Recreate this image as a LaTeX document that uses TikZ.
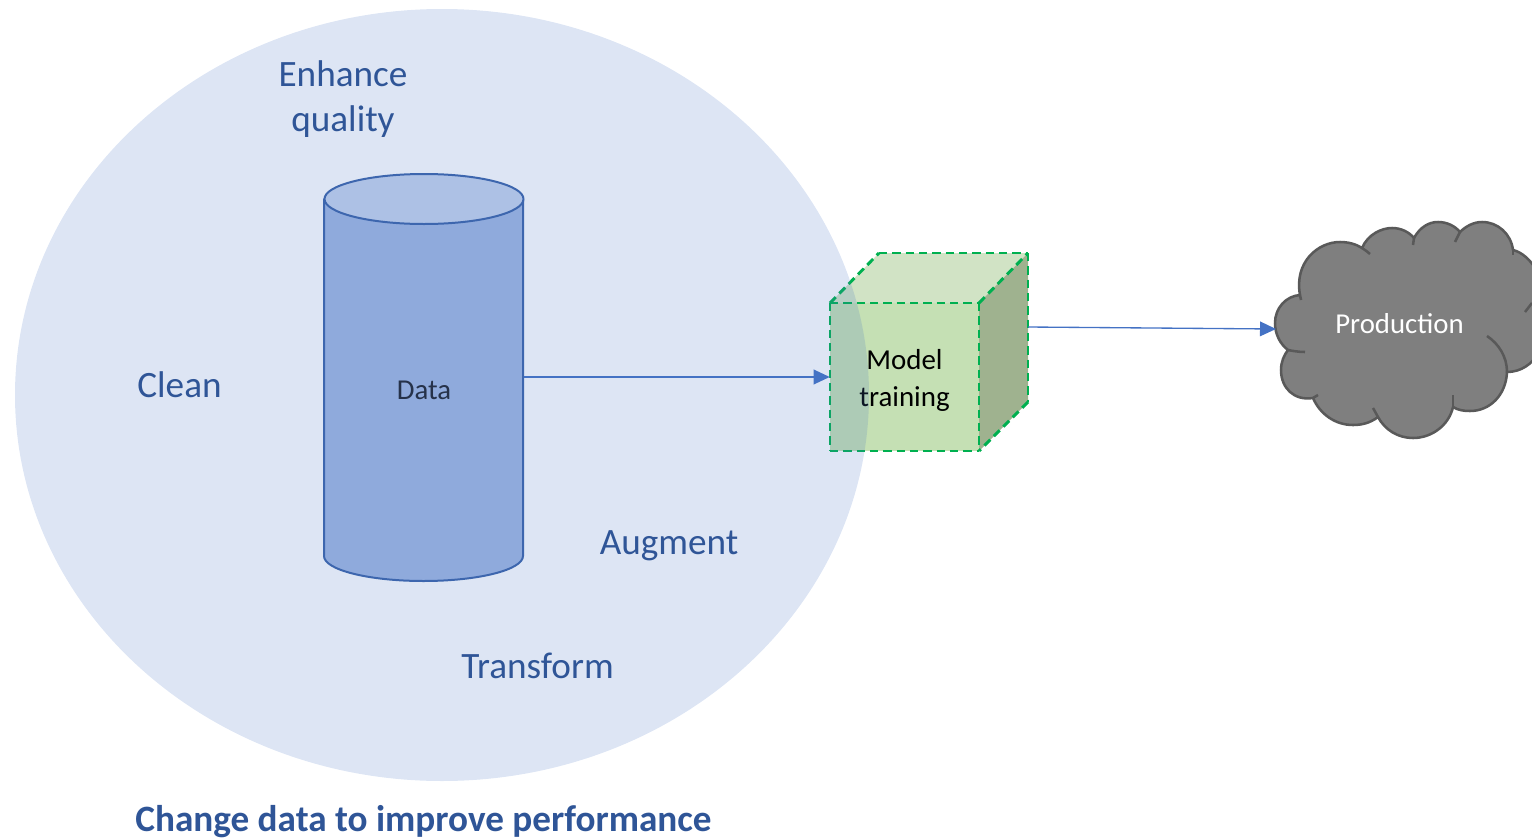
\documentclass[tikz,border=0pt]{standalone}
\usepackage{fontspec}
\setmainfont{Carlito}
\usetikzlibrary{arrows.meta}
\definecolor{linkblue}{HTML}{4472C4}
\definecolor{labelblue}{HTML}{2F5597}
\definecolor{cylbody}{HTML}{8FAADC}
\definecolor{cyltop}{HTML}{ADC1E5}
\definecolor{cyledge}{HTML}{3D66AE}
\definecolor{cubegreen}{HTML}{00B050}
\definecolor{cubetop}{HTML}{D1E3C5}
\definecolor{cubeside}{HTML}{9FB28F}
\definecolor{cubefill}{HTML}{C5E0B4}
\definecolor{datadark}{HTML}{26324A}
\definecolor{cloudgrey}{HTML}{7F7F7F}
\definecolor{cloudedge}{HTML}{595959}
\tikzset{
  steplabel/.style={text=labelblue,font=\fontsize{27.9}{33.75}\selectfont,align=center,inner sep=0pt},
  cubeedge/.style={draw=cubegreen,line width=2.2pt,dash pattern=on 6.2pt off 3.8pt},
  cylface/.style={draw=cyledge,line width=1.5pt},
  cloudline/.style={draw=cloudedge,line width=1.9pt},
  link/.style={draw=linkblue,line width=1pt,-{Triangle[length=12pt,width=11pt]}},
}
\begin{document}
\begin{tikzpicture}[x=.75pt,y=-.75pt,line join=round]
\useasboundingbox (0,0) rectangle (1532,839);
\clip (0,0) rectangle (1532,839);
% cube
\fill[cubetop](830,303)--(879,253)--(1028,253)--(979,303)--cycle;
\fill[cubeside](979,303)--(1028,253)--(1028,402)--(979,451)--cycle;
\node[fill=cubefill,minimum width=111.75pt,minimum height=111pt,inner sep=0pt] (cubefront) at (904.5,377) {};
\draw[cubeedge](830,303)--(979,303);
\draw[cubeedge](830,303)--(830,451);
\draw[cubeedge](830,451)--(979,451);
\draw[cubeedge](979,303)--(979,451);
\draw[cubeedge](830,303)--(879,253);
\draw[cubeedge](879,253)--(1028,253);
\draw[cubeedge](979,303)--(1028,253);
\draw[cubeedge](1028,253)--(1028,402);
\draw[cubeedge](1028,402)--(979,451);
\node[align=center,inner sep=0pt,font=\fontsize{21.7}{27.75}\selectfont] (modeltext) at (904.5,380) {Model\\training};
\coordinate (cubeout) at (1028,327);
% soft circle over the cube
\fill[linkblue,opacity=.185](442,395) ellipse [x radius=427,y radius=386];
% cylinder
\filldraw[cylface,fill=cylbody](324,199)--(324,556) arc[start angle=180,end angle=360,x radius=99.5,y radius=-25]--(523,199)--cycle;
\filldraw[cylface,fill=cyltop](424,199) ellipse [x radius=99.5,y radius=25];
\node[minimum width=149.25pt,minimum height=267pt,inner sep=0pt] (datacyl) at (424,377) {};
\node[text=datadark,font=\fontsize{21.6}{25}\selectfont,inner sep=0pt] (datatext) at (424,390) {Data};
% cloud
\filldraw[fill=cloudgrey,cloudline]
  (1300,295) .. controls (1294,262) and (1318,242) .. (1340,242)
  .. controls (1348,242) and (1356,244) .. (1362,248)
  .. controls (1368,234) and (1382,228) .. (1392,228)
  .. controls (1401,228) and (1409,232) .. (1414,238)
  .. controls (1420,227) and (1429,222) .. (1438,222)
  .. controls (1447,222) and (1455,226) .. (1460,232)
  .. controls (1466,226) and (1474,222) .. (1482,222)
  .. controls (1498,222) and (1511,234) .. (1513,250)
  .. controls (1530,254) and (1548,280) .. (1546,310)
  .. controls (1552,340) and (1535,372) .. (1507,372)
  .. controls (1506,395) and (1490,411) .. (1470,411)
  .. controls (1463,411) and (1458,410) .. (1453,407)
  .. controls (1449,425) and (1432,438) .. (1413,438)
  .. controls (1398,438) and (1385,430) .. (1378,417)
  .. controls (1370,423) and (1362,425) .. (1353,425)
  .. controls (1335,425) and (1320,414) .. (1313,398)
  .. controls (1294,401) and (1281,388) .. (1281,370)
  .. controls (1281,362) and (1284,355) .. (1288,350)
  .. controls (1280,344) and (1275,334) .. (1275,323)
  .. controls (1275,308) and (1286,296) .. (1300,295)
  -- cycle;
\draw[cloudline](1362,248)..controls (1365,250) and (1368,252)..(1370,254);
\draw[cloudline](1414,238)--(1413,245);
\draw[cloudline](1460,232)--(1455,242);
\draw[cloudline](1513,250)--(1513,255);
\draw[cloudline](1532,303)--(1525,312);
\draw[cloudline](1507,372)..controls (1507,357) and (1499,344)..(1487,336);
\draw[cloudline](1453,407)--(1453,395);
\draw[cloudline](1378,417)--(1373,408);
\draw[cloudline](1313,398)--(1318,395);
\draw[cloudline](1288,350)..controls (1293,351) and (1299,352)..(1305,352);
\draw[cloudline](1300,295)--(1301,300);
\node[text=white,font=\fontsize{21.6}{24}\selectfont,inner sep=0pt] (production) at (1399.5,324) {Production};
\coordinate (cloudin) at (1276,329);
% labels
\node[steplabel] (enhance) at (343,99) {Enhance\\quality};
\node[steplabel] (clean) at (179.5,385) {Clean};
\node[steplabel] (augment) at (669,546) {Augment};
\node[steplabel] (transform) at (537.5,666) {Transform};
\node[text=labelblue,font=\fontsize{27.9}{33}\selectfont\bfseries,inner sep=0pt] (caption) at (423.5,822) {Change data to improve performance};
% links
\draw[link] (datacyl.east) -- (cubefront.west);
\draw[link] (cubeout) -- (cloudin);
\end{tikzpicture}
\end{document}
